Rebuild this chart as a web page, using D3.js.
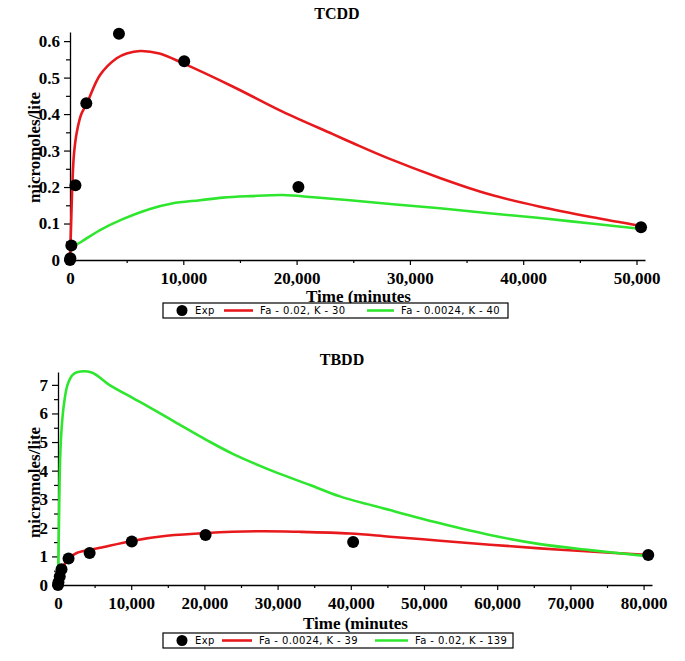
<!DOCTYPE html>
<html>
<head>
<meta charset="utf-8">
<script src="https://cdn.jsdelivr.net/npm/d3@7"></script>
<style>
  html, body { margin: 0; padding: 0; background: #fff; }
  svg { display: block; }
  .tick text { font-family: "Liberation Serif", "Times New Roman", serif; font-weight: bold; font-size: 17px; fill: #000; }
  .ttl { font-family: "Liberation Serif", "Times New Roman", serif; font-weight: bold; font-size: 16px; }
  .lab { font-family: "Liberation Serif", "Times New Roman", serif; font-weight: bold; font-size: 17px; }
  .leg { font-family: "DejaVu Sans", sans-serif; font-size: 10px; letter-spacing: 0.4px; }
</style>
</head>
<body>
<script>
// ---------- TCDD data ----------
const tcddExpTime  = [0, 30, 120, 480, 1440, 4320, 10080, 20160, 50400];
const tcddExpValue = [0, 0.005, 0.04, 0.205, 0.43, 0.62, 0.545, 0.2, 0.09];
const tcddFitATime  = [0, 100, 200, 350, 600, 1000, 1500, 2650, 4120, 5000, 6200, 7900, 10000, 14400, 18800, 23200, 25000, 28000, 32650, 37000, 41500, 46000, 50500];
const tcddFitAValue = [0, 0.1, 0.2, 0.29, 0.35, 0.4, 0.43, 0.507, 0.553, 0.566, 0.573, 0.566, 0.539, 0.475, 0.406, 0.345, 0.32, 0.28, 0.225, 0.18, 0.146, 0.118, 0.093];
const tcddFitBTime  = [0, 200, 1000, 2650, 4500, 7060, 9000, 11470, 13500, 15890, 18800, 21500, 24700, 28500, 32650, 37000, 41480, 46000, 50500];
const tcddFitBValue = [0.02, 0.035, 0.05, 0.082, 0.11, 0.14, 0.155, 0.164, 0.171, 0.175, 0.178, 0.172, 0.164, 0.153, 0.142, 0.128, 0.115, 0.1, 0.085];
const tcddXTicks = [0, 10000, 20000, 30000, 40000, 50000];
const tcddYTicks = [0, 0.1, 0.2, 0.3, 0.4, 0.5, 0.6];
const tcddLegend = ["Exp", "Fa - 0.02, K - 30", "Fa - 0.0024, K - 40"];

// ---------- TBDD data ----------
const tbddExpTime  = [0, 60, 240, 480, 1440, 4320, 10080, 20160, 40320, 80640];
const tbddExpValue = [0, 0.1, 0.3, 0.55, 0.93, 1.12, 1.52, 1.75, 1.5, 1.05];
const tbddFitATime  = [0, 300, 700, 1200, 2550, 5740, 10290, 14850, 20310, 27600, 33000, 39900, 45350, 52190, 59020, 65850, 72680, 80800];
const tbddFitAValue = [0, 0.3, 0.6, 0.87, 1.12, 1.3, 1.55, 1.72, 1.82, 1.88, 1.86, 1.8, 1.69, 1.55, 1.41, 1.28, 1.17, 1.05];
const tbddFitBTime  = [0, 150, 300, 500, 800, 1300, 2000, 2700, 4600, 7000, 10290, 12340, 16000, 20310, 23950, 29870, 34430, 38520, 45350, 52190, 59020, 65850, 72680, 80800];
const tbddFitBValue = [0, 2.5, 4.5, 5.5, 6.3, 7.0, 7.35, 7.45, 7.43, 7.0, 6.53, 6.24, 5.7, 5.07, 4.58, 3.93, 3.5, 3.1, 2.62, 2.16, 1.75, 1.43, 1.22, 1.0];
const tbddXTicks = [0, 10000, 20000, 30000, 40000, 50000, 60000, 70000, 80000];
const tbddYTicks = [0, 1, 2, 3, 4, 5, 6, 7];
const tbddLegend = ["Exp", "Fa - 0.0024, K - 39", "Fa - 0.02, K - 139"];

const RED = "#e8191c", GREEN = "#2ee62e";

const svg = d3.select("body").append("svg").attr("width", 685).attr("height", 661);

function panel(cfg) {
  const x = d3.scaleLinear().domain(cfg.xDomain).range([cfg.left, cfg.right]);
  const y = d3.scaleLinear().domain(cfg.yDomain).range([cfg.bottom, cfg.top]);
  const g = svg.append("g");

  const xMinor = cfg.xTicks.map(v => v + cfg.xMinorStep).filter(v => v <= cfg.xDomain[1]);
  const yMinor = cfg.yTicks.map(v => v + cfg.yMinorStep).filter(v => v <= cfg.yDomain[1]);

  g.append("g").attr("transform", `translate(0,${cfg.bottom})`)
    .call(d3.axisBottom(x).tickValues(xMinor).tickSize(3).tickFormat(""))
    .call(a => a.select(".domain").remove());
  g.append("g").attr("transform", `translate(${cfg.left},0)`)
    .call(d3.axisLeft(y).tickValues(yMinor).tickSize(4).tickFormat(""))
    .call(a => a.select(".domain").remove());

  g.append("g").attr("transform", `translate(0,${cfg.bottom})`)
    .call(d3.axisBottom(x).tickValues(cfg.xTicks).tickSize(5).tickSizeOuter(0).tickPadding(7).tickFormat(d3.format(",")));
  g.append("g").attr("transform", `translate(${cfg.left},0)`)
    .call(d3.axisLeft(y).tickValues(cfg.yTicks).tickSize(6).tickSizeOuter(0).tickPadding(4).tickFormat(cfg.yFormat));
  g.selectAll(".domain").attr("stroke", "#000").attr("stroke-width", 1.3);
  g.selectAll(".tick line").attr("stroke", "#000").attr("stroke-width", 1.2);

  const line = d3.line().x(d => x(d[0])).y(d => y(d[1])).curve(d3.curveCatmullRom.alpha(0.5));
  const fits = [[cfg.fitBT, cfg.fitBV, GREEN], [cfg.fitAT, cfg.fitAV, RED]];
  const order = cfg.greenFirst ? fits : fits.slice().reverse();
  order.forEach(([t, v, c]) => {
    g.append("path").datum(t.map((tt, i) => [tt, v[i]]))
      .attr("d", line).attr("fill", "none").attr("stroke", c).attr("stroke-width", 2.6);
  });

  g.selectAll("circle.exp").data(cfg.expT.map((t, i) => [t, cfg.expV[i]])).enter()
    .append("circle").attr("class", "exp")
    .attr("cx", d => x(d[0])).attr("cy", d => y(d[1])).attr("r", 6).attr("fill", "#000");

  g.append("text").attr("class", "ttl").attr("x", cfg.titleX).attr("y", cfg.titleY)
    .attr("text-anchor", "middle").text(cfg.title);
  g.append("text").attr("class", "lab").attr("x", cfg.xLabX).attr("y", cfg.xLabY).text("Time (minutes");
  g.append("text").attr("class", "lab")
    .attr("transform", `translate(${cfg.yLabX},${cfg.yLabY}) rotate(-90)`)
    .attr("text-anchor", "start").text("micromoles/lite");

  const L = cfg.leg;
  const lg = g.append("g");
  lg.append("rect").attr("x", L.x0).attr("y", L.y0).attr("width", L.x1 - L.x0).attr("height", L.y1 - L.y0)
    .attr("fill", "#fff").attr("stroke", "#000").attr("stroke-width", 1.2);
  const cy = (L.y0 + L.y1) / 2;
  lg.append("circle").attr("cx", L.dot).attr("cy", cy).attr("r", 5.5).attr("fill", "#000");
  lg.append("text").attr("class", "leg").attr("x", L.dot + 13).attr("y", cy + 3.5).text(cfg.legend[0]);
  lg.append("line").attr("x1", L.l1[0]).attr("x2", L.l1[1]).attr("y1", cy).attr("y2", cy)
    .attr("stroke", RED).attr("stroke-width", 2.6);
  lg.append("text").attr("class", "leg").attr("x", L.l1[1] + 7).attr("y", cy + 3.5).text(cfg.legend[1]);
  lg.append("line").attr("x1", L.l2[0]).attr("x2", L.l2[1]).attr("y1", cy).attr("y2", cy)
    .attr("stroke", GREEN).attr("stroke-width", 2.6);
  lg.append("text").attr("class", "leg").attr("x", L.l2[1] + 7).attr("y", cy + 3.5).text(cfg.legend[2]);
}

panel({
  title: "TCDD", titleX: 337, titleY: 19,
  left: 70, right: 645, top: 32, bottom: 260,
  xDomain: [0, 50750], yDomain: [0, 0.625],
  xTicks: tcddXTicks, yTicks: tcddYTicks, xMinorStep: 5000, yMinorStep: 0.05,
  yFormat: d => d === 0 ? "0" : d3.format(".1f")(d),
  expT: tcddExpTime, expV: tcddExpValue,
  fitAT: tcddFitATime, fitAV: tcddFitAValue,
  fitBT: tcddFitBTime, fitBV: tcddFitBValue, greenFirst: true,
  xLabX: 306, xLabY: 302, yLabX: 40, yLabY: 203,
  legend: tcddLegend,
  leg: { x0: 163, x1: 508, y0: 303, y1: 318, dot: 182, l1: [224, 253], l2: [367, 394] }
});

panel({
  title: "TBDD", titleX: 342, titleY: 365,
  left: 58, right: 652, top: 372, bottom: 585,
  xDomain: [0, 81150], yDomain: [0, 7.45],
  xTicks: tbddXTicks, yTicks: tbddYTicks, xMinorStep: 5000, yMinorStep: 0.5,
  yFormat: d3.format("d"),
  expT: tbddExpTime, expV: tbddExpValue,
  fitAT: tbddFitATime, fitAV: tbddFitAValue,
  fitBT: tbddFitBTime, fitBV: tbddFitBValue, greenFirst: false,
  xLabX: 303, xLabY: 629, yLabX: 40, yLabY: 538,
  legend: tbddLegend,
  leg: { x0: 163, x1: 513, y0: 633, y1: 648, dot: 182, l1: [222, 252], l2: [375, 408] }
});
</script>
</body>
</html>
